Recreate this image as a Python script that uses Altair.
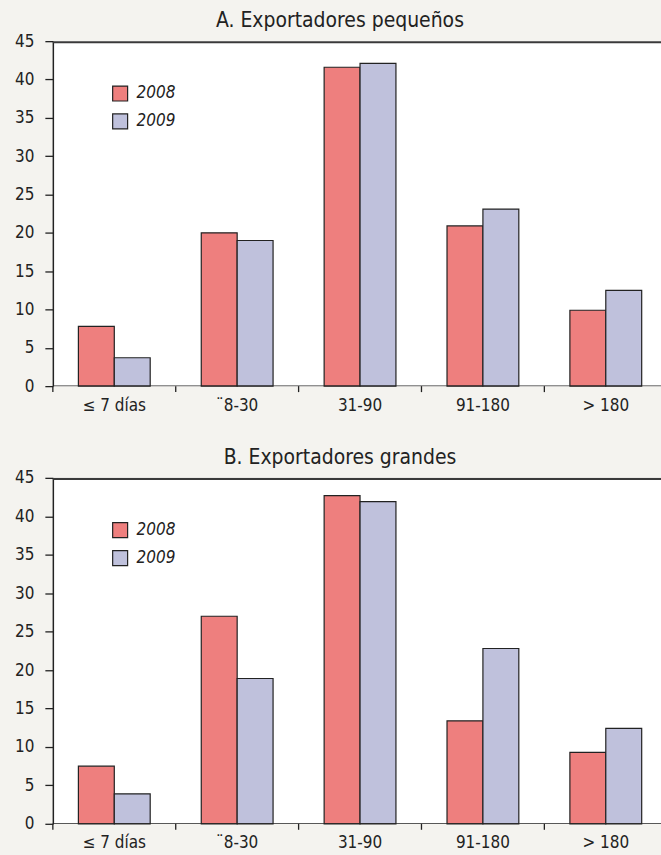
import altair as alt
import pandas as pd

# Payment-term buckets (días) and the two years compared
categories = ["≤ 7 días", "¨8-30", "31-90", "91-180", "> 180"]
years = ["2008", "2009"]

# A. Exportadores pequeños (% of exports)
small_2008 = [7.8, 20.0, 41.6, 20.9, 9.9]
small_2009 = [3.7, 19.0, 42.1, 23.1, 12.5]

# B. Exportadores grandes (% of exports)
large_2008 = [7.5, 27.0, 42.7, 13.4, 9.3]
large_2009 = [3.9, 18.9, 41.9, 22.8, 12.4]

y_ticks = [0, 5, 10, 15, 20, 25, 30, 35, 40, 45]

RED = "#ee7f7e"
BLUE = "#bfc1dc"
BG = "#f4f3ef"
INK = "#222222"
FONT = "Liberation Sans Narrow, DejaVu Sans Condensed, Roboto, sans-serif"

W = 610  # plot width; the last category band runs slightly past the right edge

# Band layout: step ~123 px per category, pushed a little to the right so
# the final band is cut by the frame edge.
PAD_IN = 0.2
PAD_OUT = 0.0747
ALIGN = 0.67
STEP = W / (len(categories) - PAD_IN + 2 * PAD_OUT)
SEP_SHIFT = -PAD_IN * STEP / 2          # from band start back to step boundary


def panel(title, v08, v09, h):
    df = pd.DataFrame({
        "plazo": categories * 2,
        "año": [years[0]] * len(categories) + [years[1]] * len(categories),
        "pct": v08 + v09,
    })
    cats = pd.DataFrame({"plazo": categories})
    one = pd.DataFrame({"k": [0]})

    xscale = alt.Scale(domain=categories, paddingInner=PAD_IN,
                       paddingOuter=PAD_OUT, align=ALIGN)
    xaxis = alt.Axis(title=None, ticks=False, domain=False, labelAngle=0,
                     labelFont=FONT, labelFontSize=17, labelColor=INK,
                     labelPadding=11)
    yaxis = alt.Axis(title=None, values=y_ticks, grid=False,
                     domainColor=INK, domainWidth=1.5,
                     tickColor=INK, tickWidth=1.3, tickSize=8,
                     labelFont=FONT, labelFontSize=17, labelColor=INK,
                     labelPadding=11)

    bars = alt.Chart(df).mark_bar(stroke=INK, strokeWidth=1.2).encode(
        x=alt.X("plazo:N", sort=categories, scale=xscale, axis=xaxis),
        xOffset=alt.XOffset("año:N", sort=years,
                            scale=alt.Scale(paddingInner=0, paddingOuter=0.369)),
        y=alt.Y("pct:Q", scale=alt.Scale(domain=[0, 45], nice=False), axis=yaxis),
        color=alt.Color(
            "año:N",
            scale=alt.Scale(domain=years, range=[RED, BLUE]),
            legend=alt.Legend(
                title=None, orient="none", legendX=59, legendY=44,
                symbolType="square", symbolSize=225,
                symbolStrokeColor=INK, symbolStrokeWidth=1.2,
                labelFont=FONT, labelFontSize=17, labelFontStyle="italic",
                labelColor=INK, labelOffset=8, rowPadding=7,
            ),
        ),
    )

    # category separators hanging below the baseline
    seps = alt.Chart(cats).mark_rule(color=INK, strokeWidth=1.3, xOffset=SEP_SHIFT).encode(
        x=alt.X("plazo:N", sort=categories, scale=xscale, bandPosition=0, axis=xaxis),
        y=alt.value(h),
        y2=alt.value(h + 6),
    )

    baseline = alt.Chart(one).mark_rule(color=INK, strokeWidth=1.5, clip=True).encode(
        x=alt.value(0), x2=alt.value(W), y=alt.value(h)
    )
    topline = alt.Chart(one).mark_rule(color="#3a3a3a", strokeWidth=2.2, clip=True).encode(
        x=alt.value(0), x2=alt.value(W), y=alt.value(1)
    )

    return alt.layer(bars, seps, baseline, topline).properties(
        width=W, height=h,
        title=alt.TitleParams(title, font=FONT, fontSize=21, fontWeight="normal",
                              color=INK, anchor="middle", dx=-17, offset=1),
    )


chart = alt.vconcat(
    panel("A. Exportadores pequeños", small_2008, small_2009, 346),
    panel("B. Exportadores grandes", large_2008, large_2009, 347),
    spacing=34,
).resolve_scale(color="independent").resolve_legend(color="independent").properties(
    background=BG,
    padding={"left": 14, "top": 9, "right": 0, "bottom": 3},
).configure_view(fill="white", stroke=None)

chart.save("out.html", embed_options={"renderer": "svg", "actions": False})
